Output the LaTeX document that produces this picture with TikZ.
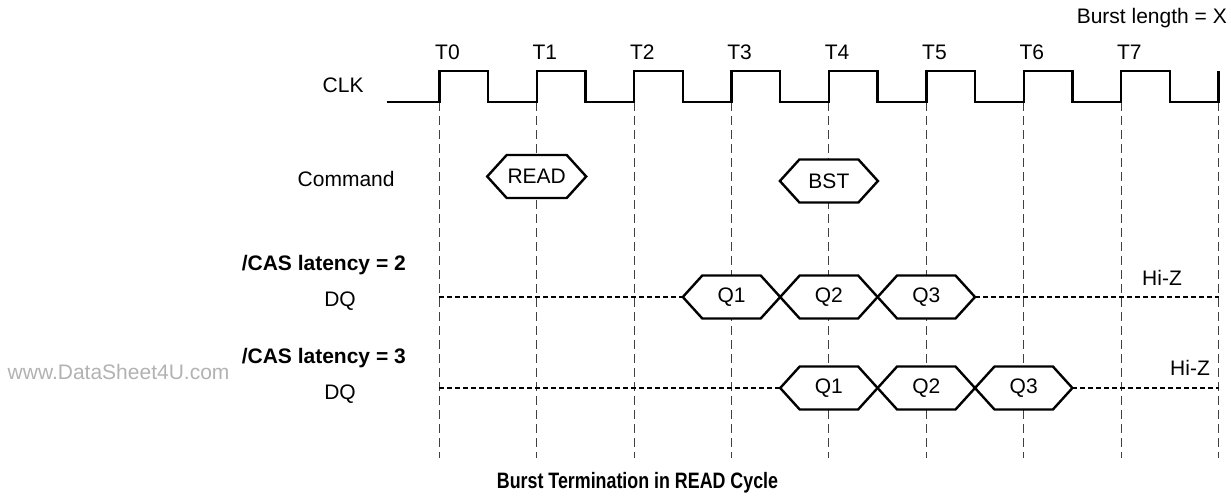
\documentclass[tikz,border=0pt]{standalone}
\usepackage{fontspec}
\setmainfont{Liberation Sans}
\newfontfamily\titlefont[FakeStretch=0.8]{Liberation Sans}
\newcommand\hexsig[4]{% name, position, text, width
  \node[hexbox=#4] (#1) at (#2) {};
  \draw[hexline] (#1.west) -- ([xshift=19.5pt]#1.north west) -- ([xshift=-19.5pt]#1.north east)
     -- (#1.east) -- ([xshift=-19.5pt]#1.south east) -- ([xshift=19.5pt]#1.south west) -- cycle;
  \node[txt] (#1t) at (#1) {#3};
}
\begin{document}
\begin{tikzpicture}[x=1pt,y=-1pt,
  txt/.style={inner sep=0pt, font=\fontsize{21}{25}\selectfont},
  btxt/.style={inner sep=0pt, font=\fontsize{21}{25}\selectfont\bfseries},
  clk/.style={line width=2.4pt, line join=miter},
  gridline/.style={black!75, line width=1pt, dash pattern=on 9pt off 5pt},
  bus/.style={line width=2.2pt, dash pattern=on 5pt off 3pt},
  hexbox/.style={inner sep=0pt, outer sep=0pt, minimum height=43pt, minimum width=#1},
  hexline/.style={line width=2.4pt, fill=white, line join=miter},
]
\useasboundingbox (0,0) rectangle (1231,497);

% clock edge coordinates
\foreach \i in {0,...,8} {
  \coordinate (t\i) at ({439.3+97.4*\i},102.3);
  \coordinate (b\i) at ({439.3+97.4*\i},458);
}
\coordinate (clkstart) at (386.7,102.3);

% vertical dashed reference lines
\foreach \i in {0,...,8} \draw[gridline] (t\i) -- (b\i);

% clock waveform
\draw[clk] (clkstart) \foreach \i in {0,...,7}{ -- (t\i) -- ++(0,-31.3) -- ++(48.7,0) -- ++(0,31.3) } -- (t8) -- ++(0,-31.3);

% T labels
\foreach \i in {0,...,7}
  \node[txt, anchor=base west] (lab\i) at ({439.3+97.4*\i-4.3},59.3) {T\i};

\node[txt, anchor=base east] (burst) at (1227,23.3) {Burst length = X};
\node[txt, anchor=base west] (clklab) at (322.5,93) {CLK};
\node[txt, anchor=base west] (cmdlab) at (297.5,186) {Command};

% commands
\hexsig{read}{536.7,176.5}{READ}{99pt}
\hexsig{bst}{828.9,181}{BST}{98pt}

% CAS latency = 2
\node[btxt, anchor=base east] (cas2) at (406,270.7) {/CAS latency = 2};
\node[txt, anchor=base] (dq1) at (340,306.5) {DQ};
\hexsig{qa1}{731.5,297}{Q1}{97.4pt}
\hexsig{qa2}{828.9,297}{Q2}{97.4pt}
\hexsig{qa3}{926.3,297}{Q3}{97.4pt}
\draw[bus] (t0 |- qa1.west) -- (qa1.west);
\draw[bus] (qa3.east) -- (t8 |- qa3.east);
\node[txt, anchor=base] (hiz1) at (1162,285) {Hi-Z};

% CAS latency = 3
\node[btxt, anchor=base east] (cas3) at (406,363.3) {/CAS latency = 3};
\node[txt, anchor=base] (dq2) at (340,399) {DQ};
\node[txt, anchor=base west, text=black!30] (wm) at (7.5,379) {www.DataSheet4U.com};
\hexsig{qb1}{828.9,388}{Q1}{97.4pt}
\hexsig{qb2}{926.3,388}{Q2}{97.4pt}
\hexsig{qb3}{1023.7,388}{Q3}{97.4pt}
\draw[bus] (t0 |- qb1.west) -- (qb1.west);
\draw[bus] (qb3.east) -- (t8 |- qb3.east);
\node[txt, anchor=base] (hiz2) at (1190,375) {Hi-Z};

% title
\node[anchor=base, inner sep=0pt, font=\titlefont\bfseries\fontsize{22.3}{26}\selectfont] (title) at (637.5,488) {Burst Termination in READ Cycle};
\end{tikzpicture}
\end{document}
